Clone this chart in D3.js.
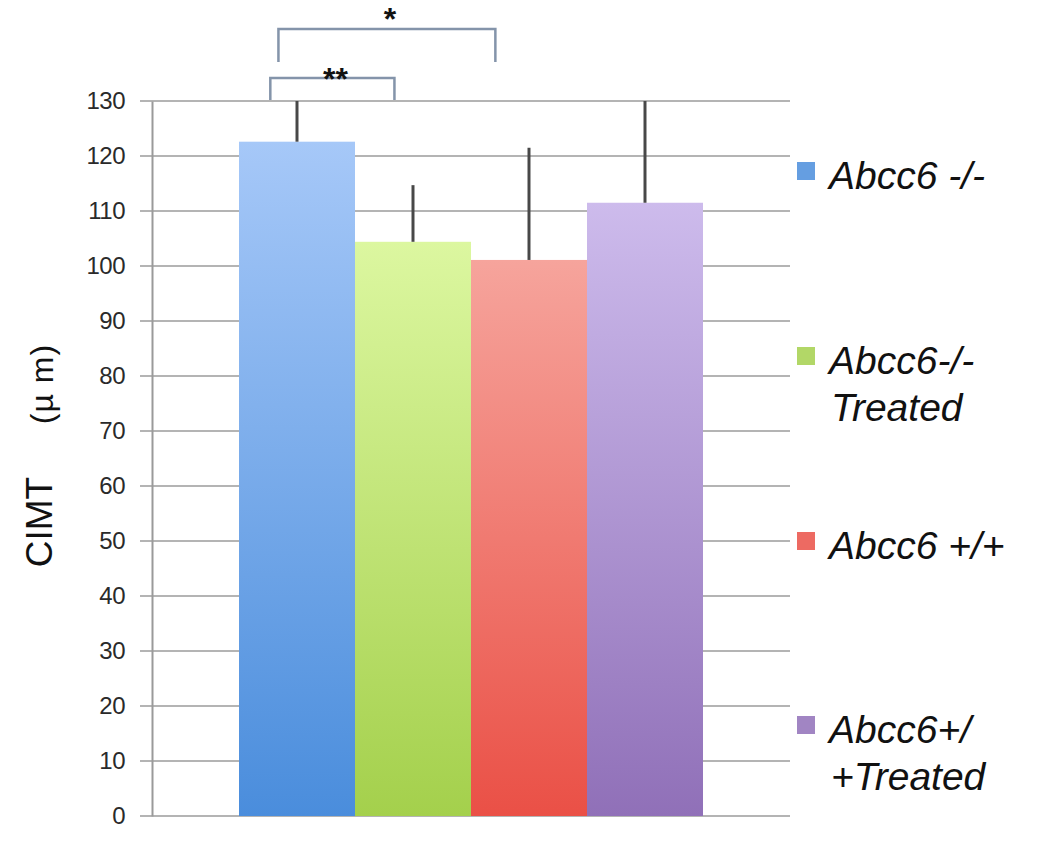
<!DOCTYPE html>
<html><head><meta charset="utf-8">
<script src="https://cdn.jsdelivr.net/npm/d3@7"></script>
<style>body{margin:0;background:#fff;} svg{display:block;}</style>
</head><body>
<script>
const categories = ["Abcc6 -/-", "Abcc6-/- Treated", "Abcc6 +/+", "Abcc6+/ +Treated"];
const legendLines = [["Abcc6 -/-"], ["Abcc6-/-", "Treated"], ["Abcc6 +/+"], ["Abcc6+/", "+Treated"]];
const values = [122.6, 104.4, 101.1, 111.5];
const errors = [7.4, 10.3, 20.4, 18.5];
const yTicks = [0,10,20,30,40,50,60,70,80,90,100,110,120,130];
const brackets = [
  {from: 0, to: 1, fa: 0.27, fb: 0.34, top: 134.2, bottom: 130.2, label: "**", labelAt: 132.0},
  {from: 0, to: 2, fa: 0.34, fb: 0.21, top: 143.1, bottom: 137.1, label: "*", labelAt: 142.9}
];
const colorsTop = ["#a6c8f8", "#dcf7a0", "#f6a49c", "#cdbbec"];
const colorsBot = ["#4a8ddc", "#a4d04c", "#ea5046", "#9070b8"];

const W = 1050, H = 854;
const svg = d3.select("body").append("svg").attr("width", W).attr("height", H);
const defs = svg.append("defs");
colorsTop.forEach((c, i) => {
  const g = defs.append("linearGradient").attr("id", "g" + i).attr("x1", 0).attr("x2", 0).attr("y1", 0).attr("y2", 1);
  g.append("stop").attr("offset", "0%").attr("stop-color", c);
  g.append("stop").attr("offset", "100%").attr("stop-color", colorsBot[i]);
});

const x0 = 152, x1 = 790;
const x = d3.scaleBand().domain(categories).range([x0, x1]).paddingInner(0).paddingOuter(0.75);
const y = d3.scaleLinear().domain([0, 130]).range([816, 101]);
const FONT = "Liberation Sans, Arial, sans-serif";

// gridlines
svg.append("g").selectAll("line").data(yTicks).join("line")
  .attr("x1", 140).attr("x2", x1).attr("y1", d => y(d)).attr("y2", d => y(d))
  .attr("stroke", "#b4b4b4").attr("stroke-width", 2);

// axis
const ax = svg.append("g").attr("transform", `translate(${x0},0)`)
  .call(d3.axisLeft(y).tickValues(yTicks).tickSize(0).tickPadding(27));
ax.select(".domain").attr("stroke", "#9a9a9a").attr("stroke-width", 2);
ax.selectAll("text").attr("font-family", FONT)
  .attr("font-size", 24).attr("fill", "#2a2a2a").attr("letter-spacing", -0.5);

// bars
svg.append("g").selectAll("rect").data(values).join("rect")
  .attr("x", (d, i) => x(categories[i])).attr("width", x.bandwidth())
  .attr("y", d => y(d)).attr("height", d => y(0) - y(d))
  .attr("fill", (d, i) => `url(#g${i})`);

// error bars (clipped at axis max)
svg.append("g").selectAll("line").data(values).join("line")
  .attr("x1", (d, i) => x(categories[i]) + x.bandwidth() / 2)
  .attr("x2", (d, i) => x(categories[i]) + x.bandwidth() / 2)
  .attr("y1", d => y(d))
  .attr("y2", (d, i) => y(Math.min(130, d + errors[i])))
  .attr("stroke", "#484848").attr("stroke-width", 3);

// significance brackets
brackets.forEach(b => {
  const xa = x(categories[b.from]) + b.fa * x.bandwidth();
  const xb = x(categories[b.to]) + b.fb * x.bandwidth();
  svg.append("path")
    .attr("d", `M${xa},${y(b.bottom)}V${y(b.top)}H${xb}V${y(b.bottom)}`)
    .attr("fill", "none").attr("stroke", "#8494aa").attr("stroke-width", 2.5);
  svg.append("text").attr("x", (xa + xb) / 2 + 3).attr("y", y(b.labelAt))
    .attr("text-anchor", "middle").attr("font-family", FONT)
    .attr("font-size", 32).attr("font-weight", "bold").attr("fill", "#111").text(b.label);
});

// y label
svg.append("text").attr("transform", "translate(52,522) rotate(-90)")
  .attr("text-anchor", "middle").attr("font-family", FONT)
  .attr("font-size", 37).attr("fill", "#111").text("CIMT");
svg.append("text").attr("transform", "translate(53,384) rotate(-90)")
  .attr("text-anchor", "middle").attr("font-family", FONT)
  .attr("font-size", 32).attr("fill", "#111").attr("letter-spacing", 1).text("(µ m)");

// legend
const legY = [171, 356, 541, 725];
const leg = svg.append("g").selectAll("g").data(categories).join("g")
  .attr("transform", (d, i) => `translate(797,${legY[i]})`);
leg.append("rect").attr("x", 0).attr("y", -9).attr("width", 18).attr("height", 18)
  .attr("fill", (d, i) => colorsBot[i]).attr("opacity", 0.85);
leg.each(function(d, i) {
  const t = d3.select(this).append("text").attr("font-family", FONT)
    .attr("font-size", 39).attr("font-style", "italic").attr("fill", "#111");
  legendLines[i].forEach((ln, j) => {
    t.append("tspan").attr("x", j === 0 ? 32 : 34).attr("y", 18 + j * 47).text(ln);
  });
});
</script>
</body></html>
